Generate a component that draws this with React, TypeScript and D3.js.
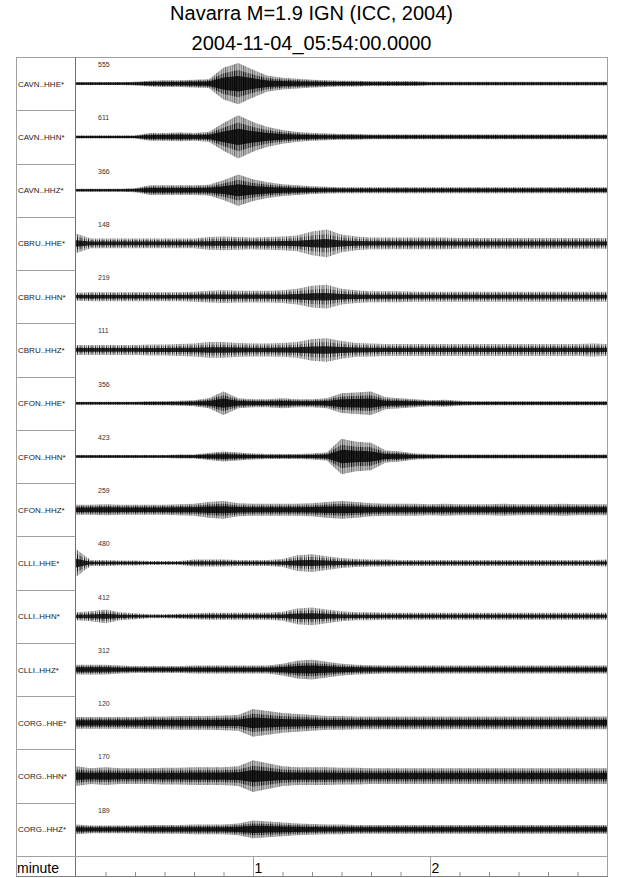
import React, { useEffect, useRef } from 'react';
import * as d3 from 'd3';

// channel names and the peak count printed above each trace
const channels = [
  'CAVN..HHE*', 'CAVN..HHN*', 'CAVN..HHZ*',
  'CBRU..HHE*', 'CBRU..HHN*', 'CBRU..HHZ*',
  'CFON..HHE*', 'CFON..HHN*', 'CFON..HHZ*',
  'CLLI..HHE*', 'CLLI..HHN*', 'CLLI..HHZ*',
  'CORG..HHE*', 'CORG..HHN*', 'CORG..HHZ*',
];
const peakCounts = [555, 611, 366, 148, 219, 111, 356, 423, 259, 480, 412, 312, 120, 170, 189];
// dense (high frequency) or visibly wavy (low frequency) look of each trace
const highFrequency = [true, true, true, false, false, false, true, true, true, false, false, true, true, true, true];

// envelope sample times (seconds after 05:54:00)
const sampleSeconds = [
  0, 5, 10, 15, 20, 25, 30, 35, 40, 45, 50, 55, 60, 65, 70, 75, 80, 85, 90,
  95, 100, 105, 110, 115, 120, 125, 130, 135, 140, 145, 150, 155, 160, 165, 170, 175, 180,
];

// trace envelopes (normalised amplitude)
const cavnHHE = [1.5, 1.5, 1.5, 1.5, 2, 3, 3.5, 3.5, 4, 4.5, 16, 21, 14, 8, 6, 5, 4, 3.5, 3, 3, 2.5, 2.5, 2.5, 2.5, 2, 2, 2, 2, 2, 2, 2, 2, 2, 2, 2, 2, 2];
const cavnHHN = [1.5, 1.5, 1.5, 1.5, 1.5, 4, 4, 4.5, 4, 5, 14, 22, 15, 10, 7, 5, 4, 3.5, 3, 3, 2.5, 2.5, 2.5, 2.5, 2.5, 2.5, 2.5, 2.5, 2.5, 2.5, 2.5, 2.5, 2.5, 2.5, 2.5, 2.5, 2.5];
const cavnHHZ = [1.5, 1.5, 1.5, 1.5, 2, 5, 5, 5, 5, 5.5, 10, 16, 11, 8, 6, 5, 4, 3.5, 3, 3, 3, 3, 3, 3, 3, 3, 3, 3, 3, 3, 3, 3, 3, 3, 3, 3, 3];
const cbruHHE = [10, 5, 5, 5, 5, 5, 5, 5, 5, 6.5, 7, 6.5, 6, 6.5, 7, 8, 12, 14, 9, 7, 6, 6, 6, 6, 6, 6, 5.5, 5.5, 5.5, 5.5, 5.5, 5.5, 5.5, 5.5, 5.5, 5.5, 5.5];
const cbruHHN = [4, 4.5, 4.5, 4.5, 4.5, 4.5, 4.5, 4.5, 5, 6, 6.5, 6, 6, 6, 6.5, 8, 11, 12, 8, 6.5, 5.5, 5.5, 5.5, 5, 5, 5, 5, 5, 5, 5, 5, 5, 5, 5, 5, 5, 5];
const cbruHHZ = [5, 5, 5, 5, 5, 5.5, 5.5, 6, 6.5, 8, 8, 7, 6.5, 6.5, 7, 8, 11, 12, 9, 7, 6.5, 6, 6, 6, 6, 6, 6, 6, 6, 6, 6, 6, 6, 6, 6, 6.5, 6];
const cfonHHE = [1.5, 1.5, 1.5, 1.5, 1.5, 2, 2, 2.5, 3, 5, 12, 5, 4, 4, 5, 4, 4, 5, 10, 11, 12, 6, 5, 4, 3, 3.5, 2.5, 2, 2, 2, 2, 2, 2, 2, 2, 2, 2];
const cfonHHN = [1.5, 1.5, 1.5, 1.5, 1.5, 1.5, 1.5, 2, 2, 3.5, 5, 4, 3, 2.5, 2.5, 2.5, 3, 4, 18, 15, 14, 6, 5, 3, 2.5, 2, 2, 2, 2, 2, 2, 2, 2, 2, 2, 2, 2];
const cfonHHZ = [5, 5, 5.5, 5, 5, 5, 5, 5.5, 6, 8, 9, 6.5, 6, 6, 6, 6, 6.5, 8, 9, 8, 6.5, 6, 6, 6, 5.5, 6, 5.5, 5.5, 5.5, 6, 5.5, 5.5, 5.5, 6, 5.5, 5.5, 5.5];
const clliHHE = [14, 3, 3, 2.5, 2.5, 2, 2, 2, 3.5, 3.5, 3.5, 3, 3, 3, 4, 8, 9, 7, 5, 4, 3.5, 3.5, 3, 3, 3, 3, 3, 3, 3, 3, 3, 3, 3, 3, 3, 3, 3.5];
const clliHHN = [4, 5, 7, 4, 3, 2, 2, 2.5, 3, 3.5, 3.5, 3.5, 3.5, 3.5, 4.5, 8, 9, 7, 5, 4, 4, 3.5, 3.5, 3.5, 3.5, 3.5, 3.5, 3.5, 3.5, 3.5, 3.5, 3.5, 3.5, 3.5, 3.5, 3.5, 3.5];
const clliHHZ = [5, 5, 5, 4, 3.5, 3.5, 3.5, 3.5, 4, 4, 4, 4, 4, 4, 6, 9, 10, 8, 6, 5, 4.5, 4, 4, 4, 4, 4, 4, 4, 4, 4, 4, 4, 4, 4, 4, 4, 4];
const corgHHE = [6, 6, 6, 6, 6, 6.5, 6.5, 7, 7, 7, 7.5, 8, 14, 12, 10, 9, 8, 7, 7, 6.5, 6.5, 6.5, 6.5, 6.5, 6.5, 6.5, 6.5, 6.5, 6.5, 6.5, 6.5, 6.5, 6.5, 6.5, 6.5, 6.5, 6.5];
const corgHHN = [10, 8, 9, 8, 8, 8, 8.5, 8.5, 9, 9, 9, 10, 16, 13, 10, 9, 9, 9, 8.5, 8.5, 8, 8, 8, 8, 8, 8, 8, 8, 8, 8, 8, 8, 8, 8, 8, 8, 8];
const corgHHZ = [5, 4, 4, 4, 4, 4.5, 4.5, 4.5, 5, 5, 5, 6, 9, 8, 7, 6, 5.5, 5, 5, 4.5, 4.5, 4.5, 4.5, 4.5, 4.5, 4.5, 4.5, 4.5, 4.5, 4.5, 4.5, 4.5, 4.5, 4.5, 4.5, 4.5, 4.5];

const envelopes = [
  cavnHHE, cavnHHN, cavnHHZ, cbruHHE, cbruHHN, cbruHHZ, cfonHHE, cfonHHN, cfonHHZ,
  clliHHE, clliHHN, clliHHZ, corgHHE, corgHHN, corgHHZ,
];

const majorTicks = [60, 120];
const majorLabels = ['1', '2'];
const minorTicks = [10, 20, 30, 40, 50, 70, 80, 90, 100, 110, 130, 140, 150, 160, 170];

const FONT = '"Liberation Sans", Arial, Helvetica, sans-serif';

const SeismogramChart: React.FC = () => {
  const chartRef = useRef<SVGSVGElement | null>(null);

  useEffect(() => {
    const width = 640;
    const height = 878;
    const frame = { left: 16, right: 607, top: 57, labelRight: 75.5, axisTop: 856, bottom: 876 };

    d3.select(chartRef.current).selectAll('*').remove();
    const svg = d3.select(chartRef.current).attr('width', width).attr('height', height);

    // wiggle textures used to fill each envelope (irregular strokes)
    const defs = svg.append('defs');
    const makePattern = (id: string, w: number, strokes: [number, number, number][]) => {
      const p = defs.append('pattern').attr('id', id).attr('patternUnits', 'userSpaceOnUse').attr('width', w).attr('height', 8);
      strokes.forEach(([sx, sw, op]) => {
        p.append('rect').attr('x', sx).attr('y', 0).attr('width', sw).attr('height', 8).attr('fill', '#000').attr('opacity', op);
      });
    };
    makePattern('dense', 9, [
      [0, 0.9, 1], [1.3, 0.6, 0.55], [2.3, 1, 0.9], [3.8, 0.5, 0.5], [4.8, 0.9, 0.85], [6.1, 0.6, 0.45], [7.3, 0.9, 0.9],
    ]);
    makePattern('sparse', 11, [
      [0, 0.9, 0.9], [1.9, 0.6, 0.55], [3.5, 0.9, 0.85], [5.4, 0.6, 0.5], [7.2, 0.9, 0.8], [9.2, 0.6, 0.6],
    ]);

    // title
    svg
      .append('text')
      .attr('x', 311.5)
      .attr('y', 20)
      .attr('text-anchor', 'middle')
      .attr('font-family', FONT)
      .attr('font-size', 20)
      .text('Navarra M=1.9 IGN (ICC, 2004)');
    svg
      .append('text')
      .attr('x', 311.5)
      .attr('y', 50)
      .attr('text-anchor', 'middle')
      .attr('font-family', FONT)
      .attr('font-size', 20)
      .text('2004-11-04_05:54:00.0000');

    const x = d3.scaleLinear().domain([0, 180]).range([76, frame.right]);
    const row = d3.scaleBand<string>().domain(channels).range([frame.top, frame.axisTop]);
    const bw = row.bandwidth();
    const amp = d3.scaleLinear().domain([-27, 27]).range([bw / 2, -bw / 2]);

    const band = (k: number, pad: number) =>
      d3
        .area<number>()
        .x((_, i) => x(sampleSeconds[i]))
        .y0((d) => amp(-d * k - pad))
        .y1((d) => amp(d * k + pad));

    // frame lines
    const grey = '#a0a0a0';
    svg.append('line').attr('x1', frame.left).attr('x2', frame.right).attr('y1', frame.top + 0.5).attr('y2', frame.top + 0.5).attr('stroke', grey);
    svg.append('line').attr('x1', frame.left + 0.5).attr('x2', frame.left + 0.5).attr('y1', frame.top).attr('y2', frame.bottom).attr('stroke', grey);
    svg.append('line').attr('x1', frame.right + 0.5).attr('x2', frame.right + 0.5).attr('y1', frame.top).attr('y2', frame.bottom).attr('stroke', grey);
    svg.append('line').attr('x1', frame.labelRight).attr('x2', frame.labelRight).attr('y1', frame.top).attr('y2', frame.bottom).attr('stroke', '#707070');
    svg.append('line').attr('x1', frame.left).attr('x2', frame.right).attr('y1', frame.axisTop + 0.5).attr('y2', frame.axisTop + 0.5).attr('stroke', grey);
    svg.append('line').attr('x1', frame.left).attr('x2', frame.right + 1).attr('y1', frame.bottom + 0.5).attr('y2', frame.bottom + 0.5).attr('stroke', '#808080');

    channels.forEach((name, i) => {
      const top = row(name) as number;
      if (i > 0) {
        svg
          .append('line')
          .attr('x1', frame.left)
          .attr('x2', frame.labelRight)
          .attr('y1', Math.round(top) + 0.5)
          .attr('y2', Math.round(top) + 0.5)
          .attr('stroke', grey);
      }
      svg
        .append('text')
        .attr('x', 18)
        .attr('y', top + bw / 2 + 3)
        .attr('font-family', FONT)
        .attr('font-size', 8)
        .attr('fill', '#222')
        .text(name);
      svg
        .append('text')
        .attr('x', 98)
        .attr('y', top + 10)
        .attr('font-family', FONT)
        .attr('font-size', 7)
        .attr('fill', '#333')
        .text(peakCounts[i]);

      const hf = highFrequency[i];
      const env = envelopes[i];
      const g = svg.append('g').attr('transform', `translate(0,${top + bw / 2})`);
      // faint outer peaks, textured body, darker core
      g.append('path').datum(env).attr('d', band(1, 0)).attr('fill', '#000').attr('opacity', hf ? 0.14 : 0.14);
      g.append('path').datum(env).attr('d', band(1, 0)).attr('fill', hf ? 'url(#dense)' : 'url(#sparse)').attr('opacity', hf ? 0.55 : 0.65);
      g.append('path').datum(env).attr('d', band(0.65, 0.2)).attr('fill', hf ? 'url(#dense)' : 'url(#sparse)').attr('opacity', 0.9);
      g.append('path').datum(env).attr('d', band(hf ? 0.35 : 0.28, 0.5)).attr('fill', '#000').attr('opacity', 0.8);
    });

    // time axis (minutes)
    svg
      .append('text')
      .attr('x', 17)
      .attr('y', 873)
      .attr('font-family', FONT)
      .attr('font-size', 14)
      .text('minute');
    majorTicks.forEach((t, i) => {
      svg.append('line').attr('x1', x(t) + 0.5).attr('x2', x(t) + 0.5).attr('y1', frame.axisTop).attr('y2', frame.bottom).attr('stroke', grey);
      svg
        .append('text')
        .attr('x', x(t) + 1.5)
        .attr('y', 873)
        .attr('font-family', FONT)
        .attr('font-size', 14)
        .text(majorLabels[i]);
    });
    minorTicks.forEach((t) => {
      svg.append('line').attr('x1', x(t) + 0.5).attr('x2', x(t) + 0.5).attr('y1', frame.bottom - 4).attr('y2', frame.bottom).attr('stroke', '#909090');
    });
  }, []);

  return <svg ref={chartRef} style={{ position: 'absolute', left: 0, top: 0, display: 'block' }}></svg>;
};

export default function App() {
  return <SeismogramChart />;
}
